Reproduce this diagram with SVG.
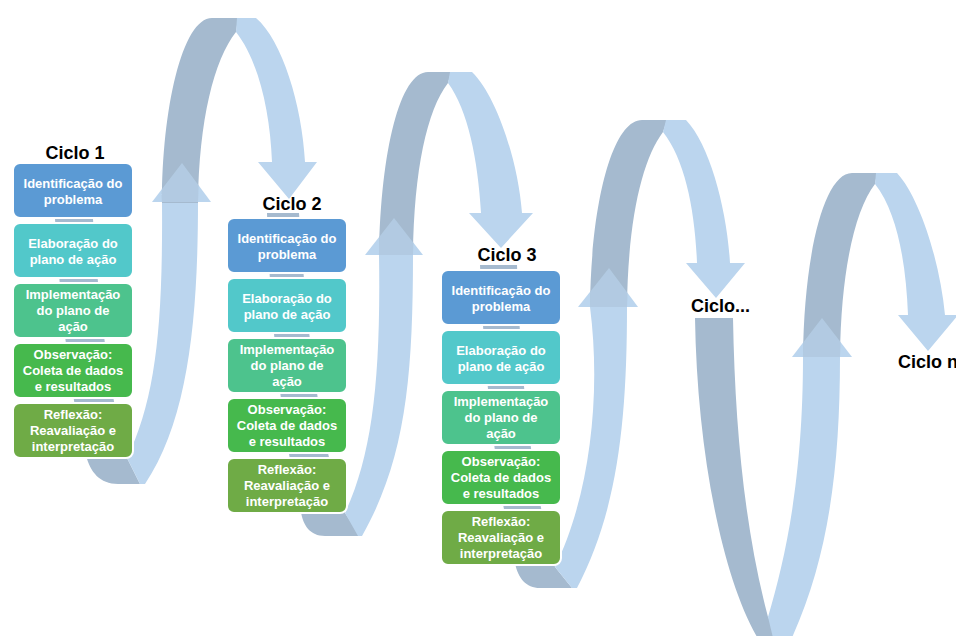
<svg xmlns="http://www.w3.org/2000/svg" width="956" height="636" viewBox="0 0 956 636">
<defs>
<style>
.dk{fill:#A5BACF}
.lt{fill:#BBD5EE}
.ov{fill:#9DC3EA;opacity:.6}
.bx{stroke:#FFFFFF;stroke-width:2}
.b1{fill:#5B9AD4}
.b2{fill:#52C8CA}
.b3{fill:#4DC38D}
.b4{fill:#46B94D}
.b5{fill:#6FAB46}
.t{font-family:"Liberation Sans",Arial,sans-serif;font-weight:bold;font-size:13px;fill:#FFFFFF;text-anchor:middle}
.h{font-family:"Liberation Sans",Arial,sans-serif;font-weight:bold;font-size:18px;fill:#000000}
</style>
<path id="a1" d="M162,203 C162,110 182,18 212,18 L238,18 L236,32 C214,60 199,120 198,203 Z"/>
<path id="a2" d="M379,255 C381,150 400,72 428,72 L451,72 L448,83 C427,110 414,170 413,255 Z"/>
<path id="a3" d="M590,307 C591,205 612,120 642,120 L667,120 L663,132 C642,160 628,220 627,307 Z"/>
<path id="a4" d="M803,357 C804,255 824,173 852,173 L877,173 L875,184 C855,210 841,270 840,357 Z"/>
<clipPath id="k1"><use href="#a1"/></clipPath>
<clipPath id="k2"><use href="#a2"/></clipPath>
<clipPath id="k3"><use href="#a3"/></clipPath>
<clipPath id="k4"><use href="#a4"/></clipPath>
</defs>
<rect width="956" height="636" fill="#FFFFFF"/>
<g id="connectors">
<!-- bands behind columns -->
<path class="dk" d="M55,219 L93,219 C98,300 110,400 127,458 L140,484 L118,484 C100,484 90,472 86,455 C70,400 60,300 55,219 Z"/>
<path class="dk" d="M267,213 L299,213 C305,300 315,430 345,513 L360,536 L325,536 C310,536 303,525 301,512 C285,450 270,330 267,213 Z"/>
<path class="dk" d="M480,265 L517,265 C520,360 528,470 555,567 L572,588 L540,588 C526,588 518,578 515,563 C500,500 485,400 480,265 Z"/>
<path class="dk" d="M695,318 L733,318 C735,430 745,530 768,617 L782,642 L760,642 C722,580 697,450 695,318 Z"/>
<!-- up shafts -->
<path class="lt" d="M162,202 L198,202 C198,320 188,420 145,484 L140,484 L127,458 C155,400 163,330 162,202 Z"/>
<path class="lt" d="M379,255 L413,255 C413,380 405,460 362,536 L358,536 L345,513 C372,455 381,380 379,255 Z"/>
<path class="lt" d="M590,307 L627,307 C627,420 618,510 577,588 L572,588 L555,567 C588,500 602,400 590,307 Z"/>
<path class="lt" d="M803,357 L840,357 C840,470 828,560 790,642 L774,642 L768,617 C785,560 803,480 803,357 Z"/>
<!-- up arrowheads -->
<path id="u1" class="lt" d="M152,202 L182,163 L211,202 Z"/>
<path id="u2" class="lt" d="M365,255 L394,218 L423,255 Z"/>
<path id="u3" class="lt" d="M578,307 L609,268 L638,307 Z"/>
<path id="u4" class="lt" d="M792,357 L822,318 L852,357 Z"/>
<!-- dark arches -->
<use href="#a1" class="dk"/>
<use href="#a2" class="dk"/>
<use href="#a3" class="dk"/>
<use href="#a4" class="dk"/>
<!-- overlays -->
<use href="#u1" class="ov" clip-path="url(#k1)"/>
<use href="#u2" class="ov" clip-path="url(#k2)"/>
<use href="#u3" class="ov" clip-path="url(#k3)"/>
<use href="#u4" class="ov" clip-path="url(#k4)"/>
<!-- light descending arches with arrowheads -->
<path class="lt" d="M237,18 L256,18 C282,40 302,105 305,162 L317,162 L289,199 L258,162 L272,162 C270,110 258,60 236,32 Z"/>
<path class="lt" d="M450,72 L472,72 C496,95 518,160 522,213 L533,213 L501,248 L469,213 L481,213 C478,160 468,110 448,83 Z"/>
<path class="lt" d="M666,120 L686,120 C710,145 727,210 730,263 L745,263 L716,298 L686,263 L697,263 C695,210 685,160 663,132 Z"/>
<path class="lt" d="M876,173 L897,173 C920,198 940,262 945,315 L958,315 L928,351 L898,315 L908,315 C906,262 897,212 875,184 Z"/>
</g>
<g id="ciclo1">
<text class="h" x="75" y="159" text-anchor="middle">Ciclo 1</text>
<g id="c1-b1"><rect class="bx b1" x="13" y="163" width="120" height="55" rx="7"/><text class="t"><tspan x="73" y="187.5">Identificação do</tspan><tspan x="73" y="203.5">problema</tspan></text></g>
<g id="c1-b2"><rect class="bx b2" x="13" y="223" width="120" height="55" rx="7"/><text class="t"><tspan x="73" y="247.5">Elaboração do</tspan><tspan x="73" y="263.5">plano de ação</tspan></text></g>
<g id="c1-b3"><rect class="bx b3" x="13" y="283" width="120" height="55" rx="7"/><text class="t"><tspan x="73" y="299.2">Implementação</tspan><tspan x="73" y="315.2">do plano de</tspan><tspan x="73" y="331.2">ação</tspan></text></g>
<g id="c1-b4"><rect class="bx b4" x="13" y="343" width="120" height="55" rx="7"/><text class="t"><tspan x="73" y="359.2">Observação:</tspan><tspan x="73" y="375.2">Coleta de dados</tspan><tspan x="73" y="391.2">e resultados</tspan></text></g>
<g id="c1-b5"><rect class="bx b5" x="13" y="403" width="120" height="55" rx="7"/><text class="t"><tspan x="73" y="419.2">Reflexão:</tspan><tspan x="73" y="435.2">Reavaliação e</tspan><tspan x="73" y="451.2">interpretação</tspan></text></g>
</g>
<g id="ciclo2">
<text class="h" x="292" y="210" text-anchor="middle">Ciclo 2</text>
<g id="c2-b1"><rect class="bx b1" x="227" y="218" width="120" height="55" rx="7"/><text class="t"><tspan x="287" y="242.5">Identificação do</tspan><tspan x="287" y="258.5">problema</tspan></text></g>
<g id="c2-b2"><rect class="bx b2" x="227" y="278" width="120" height="55" rx="7"/><text class="t"><tspan x="287" y="302.5">Elaboração do</tspan><tspan x="287" y="318.5">plano de ação</tspan></text></g>
<g id="c2-b3"><rect class="bx b3" x="227" y="338" width="120" height="55" rx="7"/><text class="t"><tspan x="287" y="354.2">Implementação</tspan><tspan x="287" y="370.2">do plano de</tspan><tspan x="287" y="386.2">ação</tspan></text></g>
<g id="c2-b4"><rect class="bx b4" x="227" y="398" width="120" height="55" rx="7"/><text class="t"><tspan x="287" y="414.2">Observação:</tspan><tspan x="287" y="430.2">Coleta de dados</tspan><tspan x="287" y="446.2">e resultados</tspan></text></g>
<g id="c2-b5"><rect class="bx b5" x="227" y="458" width="120" height="55" rx="7"/><text class="t"><tspan x="287" y="474.2">Reflexão:</tspan><tspan x="287" y="490.2">Reavaliação e</tspan><tspan x="287" y="506.2">interpretação</tspan></text></g>
</g>
<g id="ciclo3">
<text class="h" x="507" y="261" text-anchor="middle">Ciclo 3</text>
<g id="c3-b1"><rect class="bx b1" x="441" y="270" width="120" height="55" rx="7"/><text class="t"><tspan x="501" y="294.5">Identificação do</tspan><tspan x="501" y="310.5">problema</tspan></text></g>
<g id="c3-b2"><rect class="bx b2" x="441" y="330" width="120" height="55" rx="7"/><text class="t"><tspan x="501" y="354.5">Elaboração do</tspan><tspan x="501" y="370.5">plano de ação</tspan></text></g>
<g id="c3-b3"><rect class="bx b3" x="441" y="390" width="120" height="55" rx="7"/><text class="t"><tspan x="501" y="406.2">Implementação</tspan><tspan x="501" y="422.2">do plano de</tspan><tspan x="501" y="438.2">ação</tspan></text></g>
<g id="c3-b4"><rect class="bx b4" x="441" y="450" width="120" height="55" rx="7"/><text class="t"><tspan x="501" y="466.2">Observação:</tspan><tspan x="501" y="482.2">Coleta de dados</tspan><tspan x="501" y="498.2">e resultados</tspan></text></g>
<g id="c3-b5"><rect class="bx b5" x="441" y="510" width="120" height="55" rx="7"/><text class="t"><tspan x="501" y="526.2">Reflexão:</tspan><tspan x="501" y="542.2">Reavaliação e</tspan><tspan x="501" y="558.2">interpretação</tspan></text></g>
</g>
<g id="ciclo-etc"><text class="h" x="691" y="312">Ciclo...</text></g>
<g id="ciclo-n"><text class="h" x="898" y="368">Ciclo n</text></g>
</svg>
